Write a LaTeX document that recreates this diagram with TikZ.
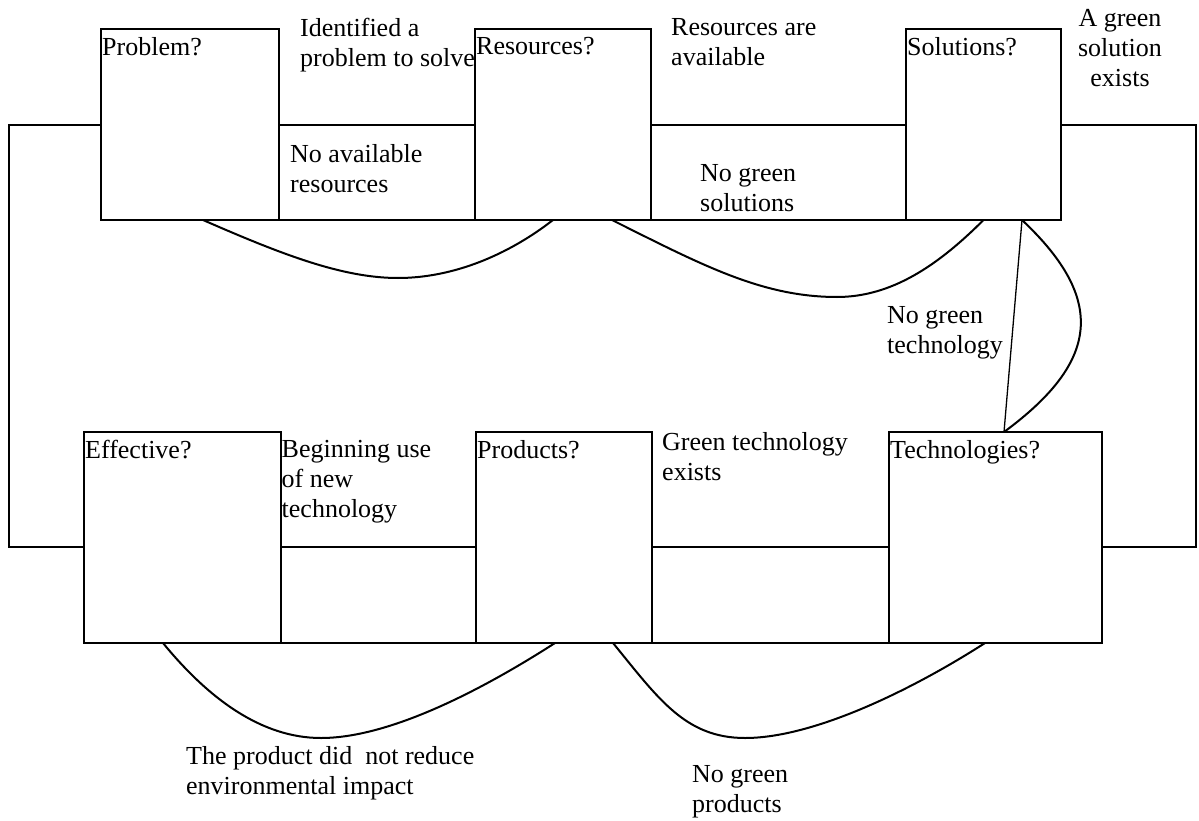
\documentclass[tikz,border=0pt]{standalone}
\usepackage{fontspec}
\setmainfont{Liberation Serif}
\usetikzlibrary{positioning}

\begin{document}
\begin{tikzpicture}[x=1pt, y=-1pt,
	qbox/.style={draw, line width=1.4pt, outer sep=0pt, minimum height=191pt},
	note/.style={inner sep=0pt, anchor=north west, align=left, font={\fontsize{26pt}{30pt}\selectfont}},
	frame/.style={line width=1.4pt},
	link/.style={line width=2pt}]
		\useasboundingbox (0,0) rectangle (1199,821);
		\node[qbox, minimum width=178pt] (prob) at (190,124.5) {};
		\node[qbox, minimum width=176pt, right=196pt of prob] (res) {};
		\node[qbox, minimum width=155pt, right=255pt of res] (sol) {};
		\node[qbox, minimum width=197pt, minimum height=211pt] (eff) at (182.5,537.5) {};
		\node[qbox, minimum width=176pt, minimum height=211pt, right=195pt of eff] (prod) {};
		\node[qbox, minimum width=213pt, minimum height=211pt, right=237pt of prod] (tech) {};
		\node[note, below right=8pt and 1pt of prob.north west] (prob-t) {Problem?};
		\node[note, below right=8pt and 1pt of res.north west] (res-t) {Resources?};
		\node[note, below right=8pt and 1pt of sol.north west] (sol-t) {Solutions?};
		\node[note, below right=8pt and 1pt of eff.north west] (eff-t) {Effective?};
		\node[note, below right=8pt and 1pt of prod.north west] (prod-t) {Products?};
		\node[note, below right=8pt and 1pt of tech.north west] (tech-t) {Technologies?};
		% the loop
		\coordinate (nw) at (9,125);
		\coordinate (sw) at (9,547);
		\coordinate (ne) at (1196,125);
		\coordinate (se) at (1196,547);
		\draw[frame] (prob.west |- nw) -- (nw) -- (sw) -- (eff.west |- sw);
		\draw[frame] (sol.east |- ne) -- (ne) -- (se) -- (tech.east |- se);
		\foreach \a/\b/\y in {prob/res/nw, res/sol/nw, eff/prod/sw, prod/tech/sw}
			\draw[frame] (\a.east |- \y) -- (\b.west |- \y) (\a.south east) -- (\b.south west);
		\node[note] (ident) at (300,17.5) {Identified a\\problem to solve};
		\node[note] (avail) at (671,18.5) {Resources are\\available};
		\node[note, anchor=north, align=center] (exist) at (1120,9.5) {A green\\solution\\exists};
		\node[note] (nores) at (290,144.5) {No available\\resources};
		\node[note] (nosol) at (700,164.5) {No green\\solutions};
		\node[note] (notech) at (887,306) {No green\\technology};
		\node[note] (begin) at (281.5,440.5) {Beginning use\\of new\\technology};
		\node[note] (gtech) at (662,432.5) {Green technology\\exists};
		\node[note] (noeff) at (186,746.5) {The product did~ not reduce\\environmental impact};
		\node[note] (noprod) at (692,765) {No green\\products};
		% failure loops
		\coordinate (dip1) at (398,278);
		\coordinate (dip2) at (837,297);
		\coordinate (dip3) at (321,738);
		\coordinate (dip4) at (745,738);
		\draw[link] ([xshift=13pt]prob.south) .. controls +(80,35) and +(-55,0) .. (dip1) .. controls +(55,0) and +(-45,35) .. ([xshift=-10pt]res.south);
		\draw[link] ([xshift=49pt]res.south) .. controls +(90,45) and +(-75,0) .. (dip2) .. controls +(55,0) and +(-45,45) .. (sol.south);
		\draw[line width=1.3pt] ([xshift=38.5pt]sol.south) -- ([xshift=8.5pt]tech.north);
		\draw[link] ([xshift=38.5pt]sol.south) .. controls +(85,80) and +(95,-70) .. ([xshift=8.5pt]tech.north);
		\draw[link] ([xshift=-19.5pt]eff.south) .. controls +(45,55) and +(-60,0) .. (dip3) .. controls +(70,0) and +(-70,45) .. ([xshift=-9pt]prod.south);
		\draw[link] ([xshift=49pt]prod.south) .. controls +(45,55) and +(-60,0) .. (dip4) .. controls +(70,0) and +(-70,45) .. ([xshift=-10.5pt]tech.south);
\end{tikzpicture}
\end{document}
